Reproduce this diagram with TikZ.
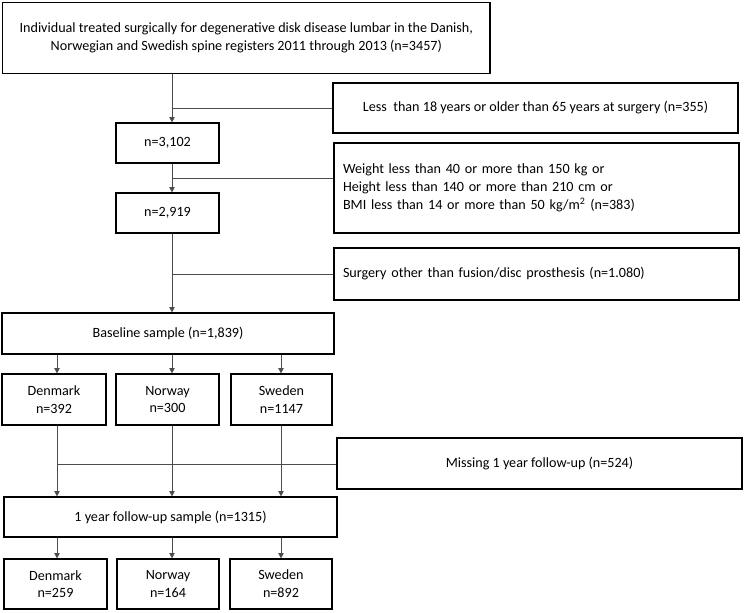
\documentclass[tikz,border=0pt]{standalone}
\usepackage{fontspec}
\setmainfont{Carlito}
\usetikzlibrary{arrows.meta}
\begin{document}
\begin{tikzpicture}[x=0.75pt,y=-0.75pt,
  font=\fontsize{10.6}{13.3}\selectfont,
  box/.style={draw=black, line width=0.9pt, rectangle, inner sep=0pt, align=center},
  lbox/.style={draw=black, line width=0.9pt, rectangle, inner ysep=0pt, inner xsep=6.75pt, align=left, text width=290.25pt, minimum height=#1},
  conn/.style={draw=black!70, line width=0.6pt},
  arr/.style={draw=black!70, line width=0.6pt, -{Triangle[width=4pt,length=4pt]}}]
\useasboundingbox (0,0) rectangle (744,612);

% boxes
\node[box, anchor=north west, inner xsep=12.75pt, minimum height=53.25pt] (top) at (2,2)
  {Individual treated surgically for degenerative disk disease lumbar in the Danish,\\
   Norwegian and Swedish spine registers 2011 through 2013 (n=3457)};
\node[box, minimum width=303.75pt, minimum height=37.5pt] (b1) at (535.5,108)
  {Less\ \ than 18 years or older than 65 years at surgery (n=355)};
\node[box, minimum width=77.25pt, minimum height=30pt] (n1) at (167.5,143) {n=3,102};
\node[lbox=67.5pt] (b2) at (536.5,188)
  {Weight less than 40 or more than 150 kg or\\
   Height less than 140 or more than 210 cm or\\
   BMI less than 14 or more than 50 kg/m\textsuperscript{2} (n=383)};
\node[box, minimum width=77.25pt, minimum height=30pt] (n2) at (167.5,213) {n=2,919};
\node[lbox=39pt] (b3) at (536.5,274) {Surgery other than fusion/disc prosthesis (n=1.080)};
\node[box, minimum width=249pt, minimum height=30.75pt] (base) at (168,333.5) {Baseline sample (n=1,839)};
\node[box, minimum width=78pt, minimum height=38.25pt] (dk1) at (54,399.5) {Denmark\\n=392};
\node[box, minimum width=77.25pt, minimum height=38.25pt] (no1) at (167.5,399.5) {Norway\\n=300};
\node[box, minimum width=75.75pt, minimum height=38.25pt] (se1) at (281.5,399.5) {Sweden\\n=1147};
\node[box, minimum width=303.75pt, minimum height=38.25pt] (miss) at (539.5,463.5) {Missing 1 year follow-up (n=524)};
\node[box, minimum width=249.75pt, minimum height=30pt] (fu) at (170.5,517) {1 year follow-up sample (n=1315)};
\node[box, minimum width=77.25pt, minimum height=37.5pt] (dk2) at (55.5,584) {Denmark\\n=259};
\node[box, minimum width=76.5pt, minimum height=37.5pt] (no2) at (168,584) {Norway\\n=164};
\node[box, minimum width=76.5pt, minimum height=37.5pt] (se2) at (281,584) {Sweden\\n=892};

% column coordinates
\coordinate (ca) at (57,0);
\coordinate (cb) at (172,0);
\coordinate (cc) at (281,0);
\coordinate (j1) at (172,108);
\coordinate (j2) at (172,178);
\coordinate (j3) at (172,274);
\coordinate (j4) at (57,464);

% main flow
\draw[arr] (top.south -| cb) -- (n1.north -| cb);
\draw[conn] (j1) -- (j1 -| b1.west);
\draw[arr] (n1.south -| cb) -- (n2.north -| cb);
\draw[conn] (j2) -- (j2 -| b2.west);
\draw[arr] (n2.south -| cb) -- (base.north -| cb);
\draw[conn] (j3) -- (j3 -| b3.west);

% baseline to countries
\draw[arr] (base.south -| ca) -- (dk1.north -| ca);
\draw[arr] (base.south -| cb) -- (no1.north -| cb);
\draw[arr] (base.south -| cc) -- (se1.north -| cc);

% countries to follow-up
\draw[arr] (dk1.south -| ca) -- (fu.north -| ca);
\draw[arr] (no1.south -| cb) -- (fu.north -| cb);
\draw[arr] (se1.south -| cc) -- (fu.north -| cc);
\draw[conn] (j4) -- (j4 -| miss.west);

% follow-up to countries
\draw[arr] (fu.south -| ca) -- (dk2.north -| ca);
\draw[arr] (fu.south -| cb) -- (no2.north -| cb);
\draw[arr] (fu.south -| cc) -- (se2.north -| cc);
\end{tikzpicture}
\end{document}
